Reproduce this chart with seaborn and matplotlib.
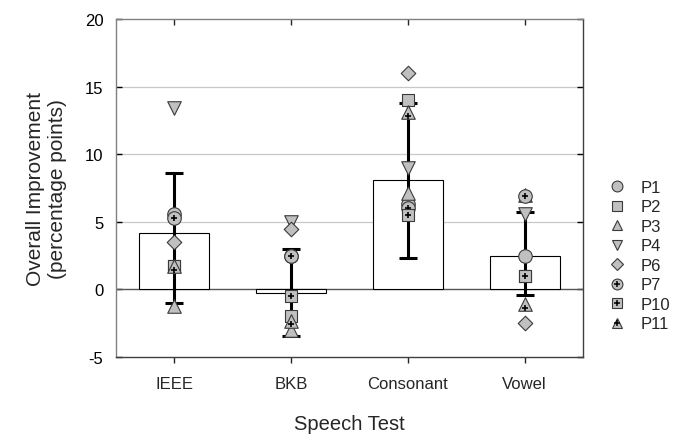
import pandas as pd
import matplotlib
matplotlib.use('Agg')
import matplotlib.pyplot as plt
from matplotlib.lines import Line2D
import seaborn as sns

# Speech tests and bar summary (mean with lower/upper error bar ends)
tests = ['IEEE', 'BKB', 'Consonant', 'Vowel']
means = [4.2, -0.25, 8.1, 2.5]
err_low = [-1.0, -3.45, 2.3, -0.45]
err_high = [8.6, 3.0, 13.8, 5.7]

# Individual participant scores, one value per test
participants = ['P1', 'P2', 'P3', 'P4', 'P6', 'P7', 'P10', 'P11']
p1 = [5.6, 2.5, 6.3, 2.5]
p2 = [1.7, -2.0, 14.0, 1.0]
p3 = [-1.2, -3.0, 7.1, 7.0]
p4 = [13.4, 5.0, 9.0, 5.6]
p6 = [3.5, 4.5, 16.0, -2.5]
p7 = [5.3, 2.5, 6.0, 6.9]
p10 = [1.7, -0.5, 5.5, 1.0]
p11 = [1.7, -2.3, 13.1, -1.1]
scores = [p1, p2, p3, p4, p6, p7, p10, p11]

# marker shape, size, and whether a small plus sits on top
marker_style = {
    'P1': ('o', 95, False), 'P2': ('s', 75, False), 'P3': ('^', 95, False),
    'P4': ('v', 95, False), 'P6': ('D', 55, False), 'P7': ('o', 95, True),
    'P10': ('s', 75, True), 'P11': ('^', 95, True),
}
fill = '#c0c0c0'
edge = '#3a3a3a'

bars = pd.DataFrame({'test': tests, 'mean': means})
bars['pos'] = range(len(tests))

sns.set_style('white')
plt.rcParams['font.family'] = ['Liberation Sans', 'DejaVu Sans']

fig = plt.figure(figsize=(6.97, 4.35), dpi=100)
ax = fig.add_axes([0.1664, 0.177, 0.6701, 0.777])

for y in [5, 10, 15]:
    ax.axhline(y, color='#c8c8c8', lw=0.9, zorder=0)
ax.axhline(0, color='#555555', lw=1.0, zorder=1)

sns.barplot(data=bars, x='test', y='mean', order=tests, color='white',
            edgecolor='black', linewidth=0.8, width=0.6, errorbar=None,
            ax=ax, zorder=2)

lo = [m - l for m, l in zip(means, err_low)]
hi = [h - m for m, h in zip(means, err_high)]
ax.errorbar(bars['pos'], bars['mean'], yerr=[lo, hi], fmt='none', ecolor='black',
            elinewidth=2.2, capsize=6.5, capthick=2.2, zorder=3)

handles = []
for name, vals in zip(participants, scores):
    mk, sz, plus = marker_style[name]
    df = pd.DataFrame({'pos': range(len(tests)), 'val': vals})
    sns.scatterplot(data=df, x='pos', y='val', marker=mk, s=sz, color=fill,
                    edgecolor=edge, linewidth=0.8, ax=ax, zorder=4, legend=False)
    h = Line2D([], [], ls='none', marker=mk, markersize=(sz ** 0.5) * 0.8,
               markerfacecolor=fill, markeredgecolor=edge, markeredgewidth=0.8)
    if plus:
        off = -0.25 if mk == '^' else 0
        df['val'] = df['val'] + off
        sns.scatterplot(data=df, x='pos', y='val', marker='+', s=22, color='black',
                        linewidth=1.2, ax=ax, zorder=4, legend=False)
        hp = Line2D([], [], ls='none', marker='+', markersize=4.2, color='black',
                    markeredgewidth=1.1)
        h = (h, hp)
    handles.append(h)

ax.set_xlim(-0.5, 3.5)
ax.set_ylim(-5, 20)
ax.set_yticks([-5, 0, 5, 10, 15, 20])
ax.set_yticklabels(['-5', '0', '5', '10', '15', '20'])
ax.set_xticks(range(len(tests)))
ax.set_xticklabels(tests)

ax.tick_params(axis='y', direction='in', length=4, width=1, left=True, right=True,
               labelsize=12, pad=9, colors='black')
ax.tick_params(axis='x', direction='out', length=4, width=1, bottom=True,
               labelsize=12, pad=10)
ax.tick_params(axis='x', which='major', top=True)
for t in ax.xaxis.get_major_ticks():
    t.tick2line.set_marker(3)  # top ticks point inward

for side in ['left', 'top']:
    ax.spines[side].set_color('#808080')
for side in ['right', 'bottom']:
    ax.spines[side].set_color('#404040')
for sp in ax.spines.values():
    sp.set_linewidth(1.0)

ax.set_xlabel('Speech Test', fontsize=14.5, labelpad=16)
ax.set_ylabel('Overall Improvement\n(percentage points)', fontsize=15, labelpad=13)

ax.legend(handles, participants, loc='center left', bbox_to_anchor=(1.02, 0.3),
          frameon=False, fontsize=12, handletextpad=0.8, labelspacing=0.27,
          handlelength=1.2)

fig.savefig('out.png', dpi=100)
